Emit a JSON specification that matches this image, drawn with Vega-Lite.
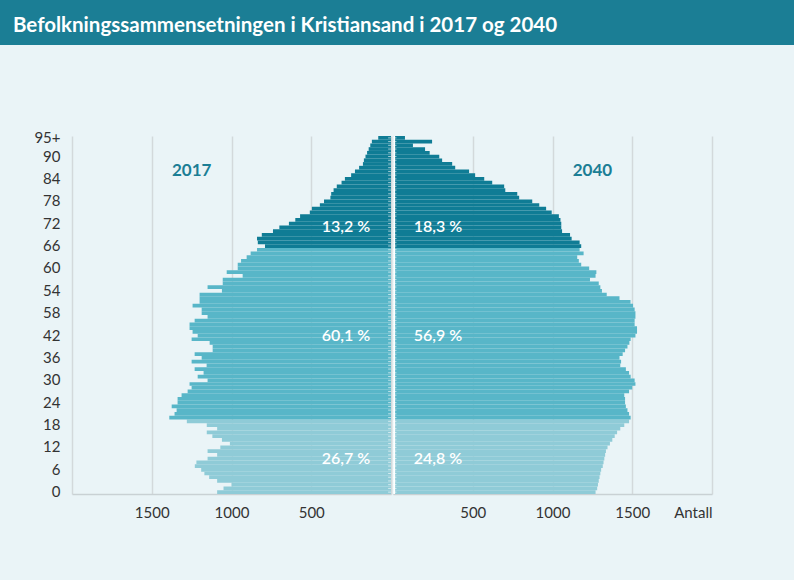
{
  "$schema": "https://vega.github.io/schema/vega-lite/v6.json",
  "background": "#eaf4f7",
  "padding": {"left": 0, "top": 0, "right": 0, "bottom": 60},
  "config": {
    "font": "Lato",
    "view": {"stroke": null},
    "axis": {
      "labelFont": "Lato",
      "labelFontSize": 15,
      "labelColor": "#333333",
      "domainColor": "#c9d1d4",
      "domainWidth": 1.5,
      "gridColor": "#d3d9db",
      "gridWidth": 1.5,
      "ticks": false,
      "labelOverlap": false
    }
  },
  "datasets": {
    "pop": [
      {"age": 0, "y2017": 1090, "y2040": 1270},
      {"age": 1, "y2017": 1050, "y2040": 1280},
      {"age": 2, "y2017": 1000, "y2040": 1285},
      {"age": 3, "y2017": 1090, "y2040": 1290},
      {"age": 4, "y2017": 1140, "y2040": 1295},
      {"age": 5, "y2017": 1170, "y2040": 1300},
      {"age": 6, "y2017": 1190, "y2040": 1305},
      {"age": 7, "y2017": 1230, "y2040": 1315},
      {"age": 8, "y2017": 1220, "y2040": 1320},
      {"age": 9, "y2017": 1150, "y2040": 1325},
      {"age": 10, "y2017": 1090, "y2040": 1330},
      {"age": 11, "y2017": 1150, "y2040": 1335},
      {"age": 12, "y2017": 1070, "y2040": 1345},
      {"age": 13, "y2017": 1010, "y2040": 1360},
      {"age": 14, "y2017": 1060, "y2040": 1375},
      {"age": 15, "y2017": 1120, "y2040": 1390},
      {"age": 16, "y2017": 1155, "y2040": 1405},
      {"age": 17, "y2017": 1090, "y2040": 1425},
      {"age": 18, "y2017": 1155, "y2040": 1450},
      {"age": 19, "y2017": 1280, "y2040": 1480},
      {"age": 20, "y2017": 1390, "y2040": 1490},
      {"age": 21, "y2017": 1357, "y2040": 1480},
      {"age": 22, "y2017": 1344, "y2040": 1470},
      {"age": 23, "y2017": 1375, "y2040": 1460},
      {"age": 24, "y2017": 1338, "y2040": 1455},
      {"age": 25, "y2017": 1338, "y2040": 1455},
      {"age": 26, "y2017": 1313, "y2040": 1450},
      {"age": 27, "y2017": 1275, "y2040": 1480},
      {"age": 28, "y2017": 1250, "y2040": 1500},
      {"age": 29, "y2017": 1263, "y2040": 1520},
      {"age": 30, "y2017": 1150, "y2040": 1515},
      {"age": 31, "y2017": 1212, "y2040": 1490},
      {"age": 32, "y2017": 1175, "y2040": 1480},
      {"age": 33, "y2017": 1231, "y2040": 1460},
      {"age": 34, "y2017": 1156, "y2040": 1425},
      {"age": 35, "y2017": 1250, "y2040": 1430},
      {"age": 36, "y2017": 1187, "y2040": 1420},
      {"age": 37, "y2017": 1231, "y2040": 1440},
      {"age": 38, "y2017": 1118, "y2040": 1455},
      {"age": 39, "y2017": 1118, "y2040": 1470},
      {"age": 40, "y2017": 1137, "y2040": 1482},
      {"age": 41, "y2017": 1250, "y2040": 1490},
      {"age": 42, "y2017": 1212, "y2040": 1520},
      {"age": 43, "y2017": 1244, "y2040": 1530},
      {"age": 44, "y2017": 1263, "y2040": 1530},
      {"age": 45, "y2017": 1263, "y2040": 1515},
      {"age": 46, "y2017": 1231, "y2040": 1515},
      {"age": 47, "y2017": 1150, "y2040": 1520},
      {"age": 48, "y2017": 1187, "y2040": 1520},
      {"age": 49, "y2017": 1187, "y2040": 1515},
      {"age": 50, "y2017": 1244, "y2040": 1505},
      {"age": 51, "y2017": 1200, "y2040": 1489},
      {"age": 52, "y2017": 1200, "y2040": 1420},
      {"age": 53, "y2017": 1200, "y2040": 1340},
      {"age": 54, "y2017": 1060, "y2040": 1310},
      {"age": 55, "y2017": 1150, "y2040": 1300},
      {"age": 56, "y2017": 1055, "y2040": 1290},
      {"age": 57, "y2017": 1055, "y2040": 1235},
      {"age": 58, "y2017": 930, "y2040": 1270},
      {"age": 59, "y2017": 1030, "y2040": 1275},
      {"age": 60, "y2017": 961, "y2040": 1230},
      {"age": 61, "y2017": 961, "y2040": 1180},
      {"age": 62, "y2017": 940, "y2040": 1165},
      {"age": 63, "y2017": 905, "y2040": 1155},
      {"age": 64, "y2017": 880, "y2040": 1195},
      {"age": 65, "y2017": 840, "y2040": 1170},
      {"age": 66, "y2017": 790, "y2040": 1180},
      {"age": 67, "y2017": 835, "y2040": 1170},
      {"age": 68, "y2017": 840, "y2040": 1120},
      {"age": 69, "y2017": 810, "y2040": 1110},
      {"age": 70, "y2017": 740, "y2040": 1060},
      {"age": 71, "y2017": 700, "y2040": 1055},
      {"age": 72, "y2017": 640, "y2040": 1055},
      {"age": 73, "y2017": 600, "y2040": 1050},
      {"age": 74, "y2017": 570, "y2040": 1040},
      {"age": 75, "y2017": 509, "y2040": 995},
      {"age": 76, "y2017": 496, "y2040": 960},
      {"age": 77, "y2017": 446, "y2040": 917},
      {"age": 78, "y2017": 420, "y2040": 873},
      {"age": 79, "y2017": 380, "y2040": 791},
      {"age": 80, "y2017": 375, "y2040": 779},
      {"age": 81, "y2017": 360, "y2040": 704},
      {"age": 82, "y2017": 340, "y2040": 697},
      {"age": 83, "y2017": 310, "y2040": 622},
      {"age": 84, "y2017": 289, "y2040": 572},
      {"age": 85, "y2017": 250, "y2040": 515},
      {"age": 86, "y2017": 226, "y2040": 477},
      {"age": 87, "y2017": 200, "y2040": 390},
      {"age": 88, "y2017": 176, "y2040": 371},
      {"age": 89, "y2017": 170, "y2040": 308},
      {"age": 90, "y2017": 160, "y2040": 290},
      {"age": 91, "y2017": 150, "y2040": 230},
      {"age": 92, "y2017": 140, "y2040": 201},
      {"age": 93, "y2017": 130, "y2040": 125},
      {"age": 94, "y2017": 120, "y2040": 245},
      {"age": 95, "y2017": 80, "y2040": 75}
    ],
    "pct2017": [
      {"age": 71, "label": "13,2 %"},
      {"age": 42, "label": "60,1 %"},
      {"age": 9, "label": "26,7 %"}
    ],
    "pct2040": [
      {"age": 71, "label": "18,3 %"},
      {"age": 42, "label": "56,9 %"},
      {"age": 9, "label": "24,8 %"}
    ],
    "year2017": [{"age": 86, "label": "2017"}],
    "year2040": [{"age": 86, "label": "2040"}],
    "heading": [{"label": "Befolkningssammensetningen i Kristiansand i 2017 og 2040"}]
  },
  "spacing": 85,
  "vconcat": [
    {
      "width": 794,
      "height": 45,
      "view": {"fill": "#1b7e95", "stroke": null},
      "data": {"name": "heading"},
      "mark": {"type": "text", "align": "left", "baseline": "alphabetic", "dx": -384, "dy": 9, "font": "Lato", "fontSize": 20.5, "fontWeight": "bold", "color": "#ffffff"},
      "encoding": {"text": {"field": "label"}}
    },
    {
      "spacing": 0,
      "hconcat": [
        {
          "width": 72,
          "height": 358,
          "data": {"name": "pop"},
          "mark": {"type": "tick", "opacity": 0},
          "encoding": {
            "y": {
              "field": "age", "type": "ordinal",
              "scale": {"reverse": true, "paddingInner": 0, "paddingOuter": 0},
              "axis": {
                "orient": "right",
                "title": null,
                "domain": false,
                "values": [0, 6, 12, 18, 24, 30, 36, 42, 48, 54, 60, 66, 72, 78, 84, 90, 95],
                "labelExpr": "datum.value == 95 ? '95+' : datum.value == 48 ? '58' : datum.label",
                "labelAlign": "right",
                "labelPadding": -12
              }
            }
          }
        },
        {
          "width": 319,
          "height": 358,
          "layer": [
            {
              "data": {"name": "pop"},
              "mark": {"type": "bar"},
              "encoding": {
                "y": {
                  "field": "age", "type": "ordinal",
                  "scale": {"reverse": true, "paddingInner": 0, "paddingOuter": 0},
                  "axis": null
                },
                "x": {
                  "field": "y2017", "type": "quantitative",
                  "scale": {"domain": [0, 2000], "reverse": true},
                  "axis": {
                    "title": null,
                    "values": [0, 500, 1000, 1500, 2000],
                    "format": "d",
                    "labelExpr": "datum.value == 0 || datum.value == 2000 ? '' : datum.label",
                    "grid": true,
                    "labelPadding": 11
                  }
                },
                "color": {
                  "field": "age", "type": "quantitative",
                  "scale": {"type": "threshold", "domain": [20, 66], "range": ["#8fcbd7", "#58b6c8", "#0f7c95"]},
                  "legend": null
                }
              }
            },
            {
              "data": {"name": "pop"},
              "mark": {"type": "rule", "color": "#ffffff", "strokeWidth": 1, "opacity": 0.6},
              "encoding": {
                "y": {"field": "age", "type": "ordinal"},
                "x": {"datum": 0},
                "x2": {"datum": 18}
              }
            },
            {
              "data": {"name": "pct2017"},
              "mark": {"type": "text", "align": "right", "baseline": "middle", "fontSize": 16, "fontWeight": 600, "color": "#ffffff"},
              "encoding": {
                "y": {"field": "age", "type": "ordinal"},
                "x": {"datum": 130},
                "text": {"field": "label"}
              }
            },
            {
              "data": {"name": "year2017"},
              "mark": {"type": "text", "align": "center", "baseline": "middle", "fontSize": 17, "fontWeight": "bold", "color": "#1b7e95"},
              "encoding": {
                "y": {"field": "age", "type": "ordinal"},
                "x": {"datum": 1250},
                "text": {"field": "label"}
              }
            }
          ]
        },
        {
          "width": 319,
          "height": 358,
          "layer": [
            {
              "data": {"name": "pop"},
              "mark": {"type": "bar"},
              "encoding": {
                "y": {
                  "field": "age", "type": "ordinal",
                  "scale": {"reverse": true, "paddingInner": 0, "paddingOuter": 0},
                  "axis": null
                },
                "x": {
                  "field": "y2040", "type": "quantitative",
                  "scale": {"domain": [0, 2000]},
                  "axis": {
                    "title": null,
                    "values": [0, 500, 1000, 1500, 2000],
                    "format": "d",
                    "labelExpr": "datum.value == 2000 ? 'Antall' : datum.value == 0 ? '' : datum.label",
                    "grid": true,
                    "labelPadding": 11
                  }
                },
                "color": {
                  "field": "age", "type": "quantitative",
                  "scale": {"type": "threshold", "domain": [20, 66], "range": ["#8fcbd7", "#58b6c8", "#0f7c95"]},
                  "legend": null
                }
              }
            },
            {
              "data": {"name": "pop"},
              "mark": {"type": "rule", "color": "#ffffff", "strokeWidth": 1, "opacity": 0.6},
              "encoding": {
                "y": {"field": "age", "type": "ordinal"},
                "x": {"datum": 0},
                "x2": {"datum": 22}
              }
            },
            {
              "data": {"name": "year2040"},
              "mark": {"type": "rule", "color": "#ffffff", "strokeWidth": 2},
              "encoding": {
                "x": {"datum": 7}
              }
            },
            {
              "data": {"name": "pct2040"},
              "mark": {"type": "text", "align": "left", "baseline": "middle", "fontSize": 16, "fontWeight": 600, "color": "#ffffff"},
              "encoding": {
                "y": {"field": "age", "type": "ordinal"},
                "x": {"datum": 130},
                "text": {"field": "label"}
              }
            },
            {
              "data": {"name": "year2040"},
              "mark": {"type": "text", "align": "center", "baseline": "middle", "fontSize": 17, "fontWeight": "bold", "color": "#1b7e95"},
              "encoding": {
                "y": {"field": "age", "type": "ordinal"},
                "x": {"datum": 1250},
                "text": {"field": "label"}
              }
            }
          ]
        }
      ]
    }
  ]
}
